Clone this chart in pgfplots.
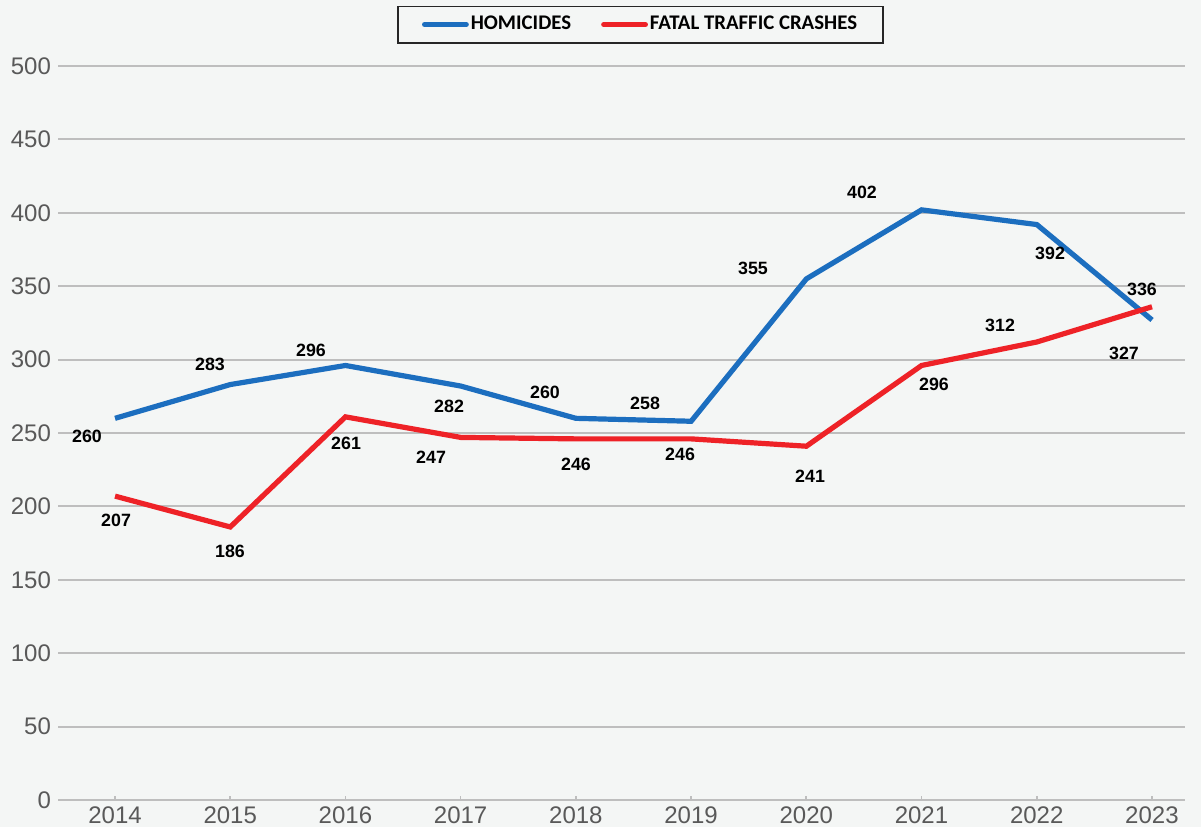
\documentclass[border=0pt]{standalone}
\usepackage{pgfplots}
\pgfplotsset{compat=1.18}
\usepackage{fontspec}
\setmainfont{Liberation Sans}
\newfontfamily\carlito{Carlito}
\definecolor{bgcol}{HTML}{F4F6F5}
\definecolor{gridcol}{HTML}{BEBEBE}
\definecolor{tickcol}{HTML}{595959}
\definecolor{homblue}{HTML}{1C6EBF}
\definecolor{crashred}{HTML}{EE2227}
\begin{document}
\begin{tikzpicture}
\fill[bgcol] (-29pt,-13.5pt) rectangle (571.5pt,400pt);
\begin{axis}[
  scale only axis, width=563.5pt, height=367pt,
  xmin=2013.505, xmax=2023.286, ymin=0, ymax=500,
  xtick={2014,...,2023}, ytick={0,50,...,500},
  /pgf/number format/assume math mode=true,
  x tick label style={/pgf/number format/1000 sep={}},
  ticklabel style={font=\fontsize{12}{14}\selectfont, text=tickcol},
  axis line style={draw=none},
  ymajorgrids, grid style={gridcol, line width=1pt},
  xtick pos=left, ytick pos=left, tick align=inside,
  x tick style={gridcol, line width=0.8pt}, major tick length=2pt,
  y tick style={draw=none},
  clip=false,
  legend columns=2,
  legend style={at={(0.5169,1.0565)}, anchor=center, draw=black!85, line width=0.7pt,
    fill=none, font=\carlito\bfseries\fontsize{10.4}{12}\selectfont,
    inner xsep=12pt, inner ysep=3pt,
    /tikz/every even column/.append style={column sep=14pt},
    nodes={inner xsep=1pt}},
  legend image code/.code={\draw[#1, line cap=round, line width=2.4pt] (0pt,0pt) -- (21pt,0pt);},
]
\addplot[homblue, line width=2.6pt] coordinates {
  (2014,260) (2015,283) (2016,296) (2017,282) (2018,260)
  (2019,258) (2020,355) (2021,402) (2022,392) (2023,327)};
\addlegendentry{HOMICIDES}
\addplot[crashred, line width=2.6pt] coordinates {
  (2014,207) (2015,186) (2016,261) (2017,247) (2018,246)
  (2019,246) (2020,241) (2021,296) (2022,312) (2023,336)};
\addlegendentry{FATAL TRAFFIC CRASHES}
\begin{scope}[every node/.style={font=\bfseries\fontsize{8.9}{10}\selectfont, inner sep=0pt}]
% homicides labels
\node at (axis cs:2013.757,248.0) {260};
\node at (axis cs:2014.824,297.0) {283};
\node at (axis cs:2015.701,306.5) {296};
\node at (axis cs:2016.899,268.4) {282};
\node at (axis cs:2017.732,277.9) {260};
\node at (axis cs:2018.600,270.4) {258};
\node at (axis cs:2019.537,362.4) {355};
\node at (axis cs:2020.483,414.2) {402};
\node at (axis cs:2022.115,372.6) {392};
\node at (axis cs:2022.757,304.5) {327};
% crash labels
\node at (axis cs:2014.009,190.7) {207};
\node at (axis cs:2014.998,169.6) {186};
\node at (axis cs:2016.005,243.2) {261};
\node at (axis cs:2016.743,233.7) {247};
\node at (axis cs:2018.001,228.9) {246};
\node at (axis cs:2018.904,235.7) {246};
\node at (axis cs:2020.032,220.7) {241};
\node at (axis cs:2021.108,283.4) {296};
\node at (axis cs:2021.681,323.6) {312};
\node at (axis cs:2022.913,348.1) {336};
\end{scope}
\end{axis}
\pgfresetboundingbox
\path (-29pt,-13.5pt) rectangle (571.5pt,400pt);
\end{tikzpicture}
\end{document}
